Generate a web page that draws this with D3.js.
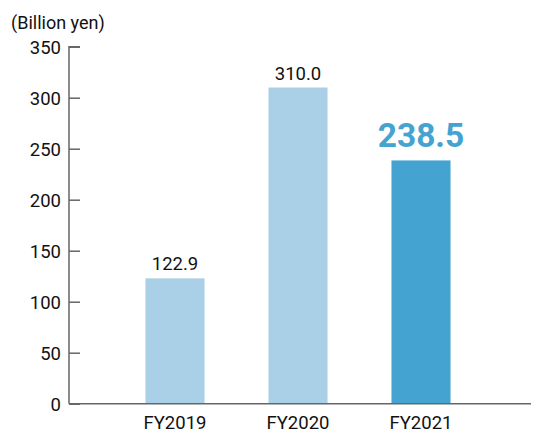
<!DOCTYPE html>
<html><head><meta charset="utf-8">
<script src="https://cdn.jsdelivr.net/npm/d3@7"></script>
<style>body{margin:0;background:#fff}svg{display:block;font-family:Roboto,"Noto Sans",sans-serif}</style>
</head><body>
<script>
const categories = ["FY2019", "FY2020", "FY2021"];
const values = [122.9, 310.0, 238.5];
const valueLabels = ["122.9", "310.0", "238.5"];
const yTicks = [0, 50, 100, 150, 200, 250, 300, 350];
const barColors = ["#a9d0e6", "#a9d0e6", "#44a3d0"];
const unitLabel = "(Billion yen)";

const W = 536, H = 434;
const FS = 18.5;
const svg = d3.select("body").append("svg").attr("width", W).attr("height", H);

const y = d3.scaleLinear().domain([0, 350]).range([403.7, 46.7]);
const x = d3.scaleBand().domain(categories).range([113.5, 482.5]).paddingInner(0.52).paddingOuter(0.26);
const axisX = 69;

// bars
svg.selectAll("rect.bar").data(values).join("rect")
  .attr("class", "bar")
  .attr("x", (d, i) => x(categories[i]))
  .attr("width", x.bandwidth())
  .attr("y", d => y(d))
  .attr("height", d => y(0) - y(d))
  .attr("fill", (d, i) => barColors[i]);

// y axis
const yAxis = d3.axisRight(y).tickValues(yTicks).tickSize(11).tickFormat(d3.format("d"));
const gy = svg.append("g").attr("transform", `translate(${axisX},0)`).call(yAxis);
gy.select(".domain").attr("d", `M11,${y(350)}H0V${y(0)}`).attr("stroke", "#666").attr("stroke-width", 1.5);
gy.selectAll(".tick line").attr("stroke", "#666").attr("stroke-width", 1.5);
gy.selectAll(".tick text").attr("x", -8).attr("text-anchor", "end").attr("dy", "0.35em")
  .attr("font-size", FS).attr("fill", "#111").attr("font-family", "Roboto, 'Noto Sans', sans-serif");

// x axis line
svg.append("line").attr("x1", axisX).attr("x2", 531).attr("y1", y(0)).attr("y2", y(0))
  .attr("stroke", "#666").attr("stroke-width", 1.5);

// x labels
const xAxis = d3.axisBottom(x).tickSize(0);
const gx = svg.append("g").attr("transform", `translate(0,${y(0)})`).call(xAxis);
gx.select(".domain").remove();
gx.selectAll(".tick text").attr("y", 0).attr("dy", 25).attr("font-size", FS).attr("fill", "#111")
  .attr("font-family", "Roboto, 'Noto Sans', sans-serif");

// value labels
svg.selectAll("text.val").data(values).join("text")
  .attr("class", "val")
  .attr("x", (d, i) => x(categories[i]) + x.bandwidth() / 2)
  .attr("y", (d, i) => y(d) - (i === 2 ? 13 : 8))
  .attr("text-anchor", "middle")
  .attr("font-size", (d, i) => i === 2 ? 33.5 : FS)
  .attr("font-weight", (d, i) => i === 2 ? "bold" : "normal")
  .attr("fill", (d, i) => i === 2 ? "#44a3d0" : "#111")
  .text((d, i) => valueLabels[i]);

// unit label
svg.append("text").attr("x", 11).attr("y", 29).attr("font-size", 18).attr("fill", "#111").text(unitLabel);
</script>
</body></html>
